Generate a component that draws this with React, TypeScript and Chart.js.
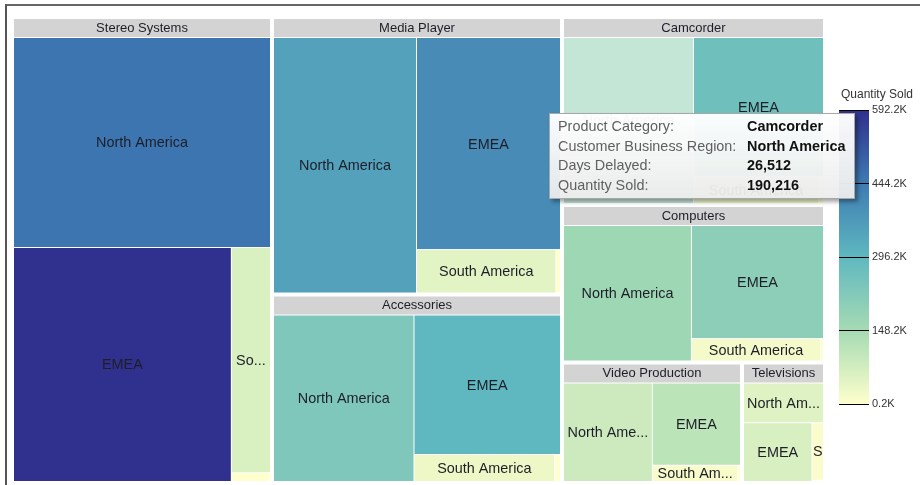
import React, { useEffect, useRef } from "react";
import { Chart, registerables } from "chart.js";

Chart.register(...registerables);

const productCategories = [
  "Stereo Systems",
  "Media Player",
  "Accessories",
  "Camcorder",
  "Computers",
  "Video Production",
  "Televisions",
];
const regions = ["North America", "EMEA", "South America", "Oceania"];

// Days Delayed (cell size) per product category, one array per region
const daysNorthAmerica = [61458, 43004, 28696, 26512, 21855, 11670, 4324];
const daysEMEA = [58041, 35945, 25073, 22164, 18830, 9677, 5473];
const daysSouthAmerica = [10044, 7129, 4661, 4180, 3656, 1861, 907];
const daysOceania = [390, 233, 193, 168, 80, 53, 20];

// Quantity Sold (cell colour) per product category, one array per region
const qtyNorthAmerica = [458000, 352000, 231000, 190216, 164000, 85000, 53000];
const qtyEMEA = [592205, 406000, 298000, 263000, 203000, 112000, 65000];
const qtySouthAmerica = [63000, 46000, 29000, 31000, 19000, 12000, 9000];
const qtyOceania = [2100, 1500, 1200, 900, 450, 300, 205];

const colorStops = ["#ffffcc", "#a6dbb3", "#5fb8c0", "#3e7cb3", "#30308e"];
const legendTitle = "Quantity Sold";
const hovered = { category: "Camcorder", region: "North America" };

const daysByRegion = [daysNorthAmerica, daysEMEA, daysSouthAmerica, daysOceania];
const qtyByRegion = [qtyNorthAmerica, qtyEMEA, qtySouthAmerica, qtyOceania];
const allQty = qtyByRegion.flat();
const qMin = Math.min(...allQty);
const qMax = Math.max(...allQty);

const FONT = "'Liberation Sans', Arial, Helvetica, sans-serif";

function hexToRgb(h: string) {
  const n = parseInt(h.slice(1), 16);
  return [(n >> 16) & 255, (n >> 8) & 255, n & 255];
}

function colorFor(q: number, whiten = 0) {
  let t = (q - qMin) / (qMax - qMin);
  t = Math.max(0, Math.min(1, t));
  const seg = t * (colorStops.length - 1);
  const i = Math.min(colorStops.length - 2, Math.floor(seg));
  const f = seg - i;
  const a = hexToRgb(colorStops[i]);
  const b = hexToRgb(colorStops[i + 1]);
  const c = a.map((v, k) => v + (b[k] - v) * f).map((v) => v + (255 - v) * whiten);
  return `rgb(${Math.round(c[0])},${Math.round(c[1])},${Math.round(c[2])})`;
}

type R = { x0: number; y0: number; x1: number; y1: number };

function worst(areas: number[], side: number) {
  const sum = areas.reduce((a, b) => a + b, 0);
  const thick = sum / side;
  let w = 0;
  for (const a of areas) {
    const len = a / thick;
    w = Math.max(w, thick / len, len / thick);
  }
  return w;
}

function squarify(values: number[], rect: R): R[] {
  const out: R[] = new Array(values.length);
  const total = values.reduce((a, b) => a + b, 0);
  let { x0, y0, x1, y1 } = rect;
  const scale = ((x1 - x0) * (y1 - y0)) / total;
  const areas = values.map((v) => v * scale);
  let i = 0;
  while (i < areas.length) {
    const w = x1 - x0;
    const h = y1 - y0;
    const side = Math.min(w, h);
    const row = [i];
    let cur = worst([areas[i]], side);
    let j = i + 1;
    while (j < areas.length) {
      const cand = [...row, j].map((k) => areas[k]);
      const nw = worst(cand, side);
      if (nw > cur) break;
      row.push(j);
      cur = nw;
      j++;
    }
    const sum = row.reduce((s, k) => s + areas[k], 0);
    if (w >= h) {
      const t = sum / h;
      let y = y0;
      for (const k of row) {
        const hh = areas[k] / t;
        out[k] = { x0, y0: y, x1: x0 + t, y1: y + hh };
        y += hh;
      }
      x0 += t;
    } else {
      const t = sum / w;
      let x = x0;
      for (const k of row) {
        const ww = areas[k] / t;
        out[k] = { x0: x, y0, x1: x + ww, y1: y0 + t };
        x += ww;
      }
      y0 += t;
    }
    i = j;
  }
  return out;
}

function fitLabel(ctx: CanvasRenderingContext2D, text: string, maxW: number) {
  if (ctx.measureText(text).width <= maxW) return text;
  for (let n = text.length - 1; n >= 1; n--) {
    const s = text.slice(0, n).trimEnd() + "...";
    if (ctx.measureText(s).width <= maxW) return s;
  }
  return text.slice(0, 1);
}

const treemapPlugin = {
  id: "treemapCells",
  afterDraw(chart: any) {
    const ctx: CanvasRenderingContext2D = chart.ctx;
    const xs = chart.scales.x;
    const ys = chart.scales.y;
    const area: R = {
      x0: xs.getPixelForValue(0),
      x1: xs.getPixelForValue(1),
      y0: ys.getPixelForValue(0),
      y1: ys.getPixelForValue(1),
    };
    const totals = productCategories.map((_, gi) =>
      daysByRegion.reduce((s, arr) => s + arr[gi], 0)
    );
    const order = totals.map((_, i) => i).sort((a, b) => totals[b] - totals[a]);
    const groupRects = squarify(order.map((i) => totals[i]), area);
    ctx.save();
    order.forEach((gi, k) => {
      const r = groupRects[k];
      const g = { x0: r.x0 + 2, y0: r.y0 + 2, x1: r.x1 - 2, y1: r.y1 - 2 };
      const gw = g.x1 - g.x0;
      // header
      ctx.fillStyle = "#d3d3d3";
      ctx.fillRect(g.x0, g.y0, gw, 18);
      ctx.font = `13px ${FONT}`;
      ctx.fillStyle = "#1e1e28";
      ctx.textAlign = "center";
      ctx.textBaseline = "middle";
      ctx.fillText(fitLabel(ctx, productCategories[gi], gw - 6), g.x0 + gw / 2, g.y0 + 9);
      // cells
      const inner: R = { x0: g.x0 - 0.5, y0: g.y0 + 19 - 0.5, x1: g.x1 + 0.5, y1: g.y1 + 0.5 };
      const vals = regions.map((_, ri) => daysByRegion[ri][gi]);
      const cells = squarify(vals, inner);
      cells.forEach((c0, ri) => {
        const c = { x0: c0.x0 + 0.5, y0: c0.y0 + 0.5, x1: c0.x1 - 0.5, y1: c0.y1 - 0.5 };
        const w = c.x1 - c.x0;
        const h = c.y1 - c.y0;
        if (w <= 0 || h <= 0) return;
        const isHover =
          productCategories[gi] === hovered.category && regions[ri] === hovered.region;
        ctx.fillStyle = colorFor(qtyByRegion[ri][gi], isHover ? 0.45 : 0);
        ctx.fillRect(c.x0, c.y0, w, h);
        if (w < 8 || h < 15) return;
        ctx.save();
        ctx.beginPath();
        ctx.rect(c.x0, c.y0, w, h);
        ctx.clip();
        ctx.font = `14.4px ${FONT}`;
        ctx.fillStyle = "#1e1e28";
        ctx.textAlign = "center";
        ctx.textBaseline = "middle";
        const label = fitLabel(ctx, regions[ri], w - 4);
        ctx.fillText(label, c.x0 + w / 2, c.y0 + h / 2 + 1);
        ctx.restore();
      });
    });
    ctx.restore();
  },
};

export default function App() {
  const mainRef = useRef<HTMLCanvasElement | null>(null);
  const legendRef = useRef<HTMLCanvasElement | null>(null);

  useEffect(() => {
    if (!mainRef.current || !legendRef.current) return;
    const main = new Chart(mainRef.current, {
      type: "scatter",
      data: { datasets: [] },
      options: {
        responsive: false,
        animation: false,
        events: [],
        layout: { padding: { left: 12, top: 17, right: 95, bottom: 2 } },
        plugins: { legend: { display: false }, tooltip: { enabled: false } },
        scales: {
          x: { type: "linear", min: 0, max: 1, display: false },
          y: { type: "linear", min: 0, max: 1, reverse: true, display: false },
        },
      },
      plugins: [treemapPlugin],
    } as any);

    const legend = new Chart(legendRef.current, {
      type: "bar",
      data: {
        labels: [legendTitle],
        datasets: [
          {
            data: [[qMin, qMax]],
            borderWidth: 0,
            barPercentage: 1,
            categoryPercentage: 1,
            backgroundColor: (c: any) => {
              const ch = c.chart;
              const y = ch.scales && ch.scales.y;
              if (!ch.chartArea || !y) return colorStops[2];
              const grad = ch.ctx.createLinearGradient(
                0,
                y.getPixelForValue(qMin),
                0,
                y.getPixelForValue(qMax)
              );
              colorStops.forEach((s, i) => grad.addColorStop(i / (colorStops.length - 1), s));
              return grad;
            },
          },
        ],
      },
      options: {
        responsive: false,
        animation: false,
        events: [],
        layout: { padding: { left: 4, right: 0, top: 0, bottom: 8 } },
        plugins: {
          legend: { display: false },
          tooltip: { enabled: false },
          title: {
            display: true,
            text: legendTitle,
            color: "#333",
            font: { family: FONT, size: 12, weight: "normal" },
            padding: { top: 7, bottom: 9 },
          },
        },
        scales: {
          x: { display: false },
          y: {
            position: "right",
            min: qMin,
            max: qMax,
            afterBuildTicks: (s: any) => {
              s.ticks = [0, 1, 2, 3, 4].map((i) => ({ value: qMin + (i * (qMax - qMin)) / 4 }));
            },
            afterFit: (s: any) => {
              s.width = 46;
            },
            ticks: {
              callback: (v: any) => (Number(v) / 1000).toFixed(1) + "K",
              color: "#333",
              font: { family: FONT, size: 11 },
              padding: 3,
            },
            grid: { color: "#000", lineWidth: 1, drawTicks: false, z: 1 },
            border: { display: false },
          },
        },
      },
    } as any);

    return () => {
      main.destroy();
      legend.destroy();
    };
  }, []);

  const gi = productCategories.indexOf(hovered.category);
  const ri = regions.indexOf(hovered.region);
  const rows: [string, string][] = [
    ["Product Category:", hovered.category],
    ["Customer Business Region:", hovered.region],
    ["Days Delayed:", daysByRegion[ri][gi].toLocaleString("en-US")],
    ["Quantity Sold:", qtyByRegion[ri][gi].toLocaleString("en-US")],
  ];

  return (
    <div
      style={{
        position: "fixed",
        left: 0,
        top: 0,
        width: 920,
        height: 485,
        overflow: "hidden",
        background: "#fff",
      }}
    >
      <div
        style={{
          position: "absolute",
          left: 5,
          top: 4,
          width: 2000,
          height: 2000,
          borderLeft: "2px solid #555",
          borderTop: "2px solid #666",
        }}
      />
      <canvas
        ref={mainRef}
        width={920}
        height={485}
        style={{ position: "absolute", left: 0, top: 0 }}
      />
      <canvas
        ref={legendRef}
        width={80}
        height={334}
        style={{ position: "absolute", left: 835, top: 80 }}
      />
      <div
        style={{
          position: "absolute",
          left: 549,
          top: 113,
          width: 306,
          height: 86,
          boxSizing: "border-box",
          border: "1px solid #a8a8a8",
          background: "linear-gradient(rgba(255,255,255,0.97), rgba(236,236,236,0.95))",
          boxShadow: "3px 3px 4px rgba(0,0,0,0.35)",
          padding: "3px 8px",
          fontFamily: FONT,
          fontSize: "14.4px",
          lineHeight: "19.5px",
        }}
      >
        {rows.map(([k, v]) => (
          <div key={k} style={{ display: "flex", whiteSpace: "nowrap" }}>
            <span style={{ width: 189, color: "#606060" }}>{k}</span>
            <span style={{ color: "#111", fontWeight: "bold" }}>{v}</span>
          </div>
        ))}
      </div>
    </div>
  );
}
